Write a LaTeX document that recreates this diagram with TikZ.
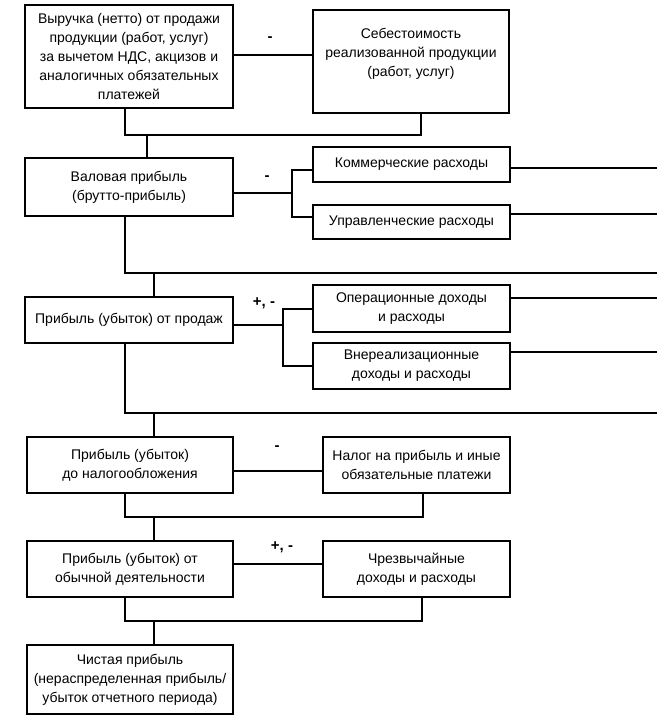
\documentclass[tikz,border=0pt]{standalone}
\usepackage{fontspec}
\setmainfont{Liberation Sans}
\begin{document}
\begin{tikzpicture}[x=1pt,y=-1pt,
  bx/.style={draw, line width=1.5pt, inner sep=0pt, align=center, font=\fontsize{14}{19}\selectfont},
  ln/.style={line width=1.4pt},
  sg/.style={inner sep=0pt, font=\fontsize{15}{16}\selectfont\bfseries}]
\useasboundingbox (0,0) rectangle (657,722);
% boxes
\node[bx, minimum width=208pt, minimum height=103pt] (b1) at (129,56.5)
  {Выручка (нетто) от продажи\\продукции (работ, услуг)\\за вычетом НДС, акцизов и\\аналогичных обязательных\\платежей};
\node[bx, minimum width=196pt, minimum height=103pt] (b2) at (411,61.5)
  {Себестоимость\\реализованной продукции\\(работ, услуг)\\\mbox{}};
\node[bx, minimum width=208pt, minimum height=58pt] (b3) at (129,187)
  {Валовая прибыль\\(брутто-прибыль)};
\node[bx, minimum width=197pt, minimum height=35pt] (k1) at (411.5,164.5)
  {Коммерческие расходы};
\node[bx, minimum width=197pt, minimum height=34pt] (k2) at (411.5,222)
  {Управленческие расходы};
\node[bx, minimum width=208pt, minimum height=46pt] (b4) at (129,320)
  {Прибыль (убыток) от продаж};
\node[bx, minimum width=197pt, minimum height=47pt] (o1) at (411.5,308.5)
  {Операционные доходы\\и расходы};
\node[bx, minimum width=197pt, minimum height=46pt] (o2) at (411.5,366)
  {Внереализационные\\доходы и расходы};
\node[bx, minimum width=206pt, minimum height=56pt] (b5) at (130,465)
  {Прибыль (убыток)\\до налогообложения};
\node[bx, minimum width=187pt, minimum height=56pt] (n1) at (416.5,465)
  {Налог на прибыль и иные\\обязательные платежи};
\node[bx, minimum width=206pt, minimum height=56pt] (b6) at (130,569)
  {Прибыль (убыток) от\\обычной деятельности};
\node[bx, minimum width=187pt, minimum height=56pt] (c1) at (416.5,569)
  {Чрезвычайные\\доходы и расходы};
\node[bx, minimum width=206pt, minimum height=69pt] (b7) at (130,679.5)
  {Чистая прибыль\\(нераспределенная прибыль/\\убыток отчетного периода)};
% sign labels
\node[sg] (s1) at (270,39) {-};
\node[sg] (s2) at (267,178) {-};
\node[sg] (s3) at (264,303) {+, -};
\node[sg] (s4) at (277,448) {-};
\node[sg] (s5) at (282,547) {+, -};
% level 1
\coordinate (r1) at (0,55);
\draw[ln] (b1.east |- r1) -- (b2.west |- r1);
\coordinate (j1a) at (125,135);
\coordinate (j1b) at (421,135);
\coordinate (j1c) at (147,135);
\draw[ln] (b1.south -| j1a) -- (j1a) -- (j1b) -- (b2.south -| j1b);
\draw[ln] (j1c) -- (b3.north -| j1c);
% level 2
\coordinate (br2) at (292,193);
\coordinate (t2) at (292,170);
\coordinate (u2) at (292,217);
\draw[ln] (b3.east |- br2) -- (br2);
\draw[ln] (k1.west |- t2) -- (t2) -- (u2) -- (k2.west |- u2);
\coordinate (e1) at (657,168);
\coordinate (e2) at (657,214);
\draw[ln] (k1.east |- e1) -- (e1);
\draw[ln] (k2.east |- e2) -- (e2);
\coordinate (j2a) at (125,273);
\coordinate (j2b) at (657,273);
\coordinate (j2c) at (154,273);
\draw[ln] (b3.south -| j2a) -- (j2a) -- (j2b);
\draw[ln] (j2c) -- (b4.north -| j2c);
% level 3
\coordinate (br3) at (283,325);
\coordinate (t3) at (283,309);
\coordinate (u3) at (283,366);
\draw[ln] (b4.east |- br3) -- (br3);
\draw[ln] (o1.west |- t3) -- (t3) -- (u3) -- (o2.west |- u3);
\coordinate (e3) at (657,298);
\coordinate (e4) at (657,352);
\draw[ln] (o1.east |- e3) -- (e3);
\draw[ln] (o2.east |- e4) -- (e4);
\coordinate (j3a) at (125,413);
\coordinate (j3b) at (657,413);
\coordinate (j3c) at (154,413);
\draw[ln] (b4.south -| j3a) -- (j3a) -- (j3b);
\draw[ln] (j3c) -- (b5.north -| j3c);
% level 4
\coordinate (r4) at (0,471);
\draw[ln] (b5.east |- r4) -- (n1.west |- r4);
\coordinate (j4a) at (125,517);
\coordinate (j4b) at (423,517);
\coordinate (j4c) at (154,517);
\draw[ln] (b5.south -| j4a) -- (j4a) -- (j4b) -- (n1.south -| j4b);
\draw[ln] (j4c) -- (b6.north -| j4c);
% level 5
\coordinate (r5) at (0,564);
\draw[ln] (b6.east |- r5) -- (c1.west |- r5);
\coordinate (j5a) at (125,621);
\coordinate (j5b) at (422,621);
\coordinate (j5c) at (154,621);
\draw[ln] (b6.south -| j5a) -- (j5a) -- (j5b) -- (c1.south -| j5b);
\draw[ln] (j5c) -- (b7.north -| j5c);
\end{tikzpicture}
\end{document}
